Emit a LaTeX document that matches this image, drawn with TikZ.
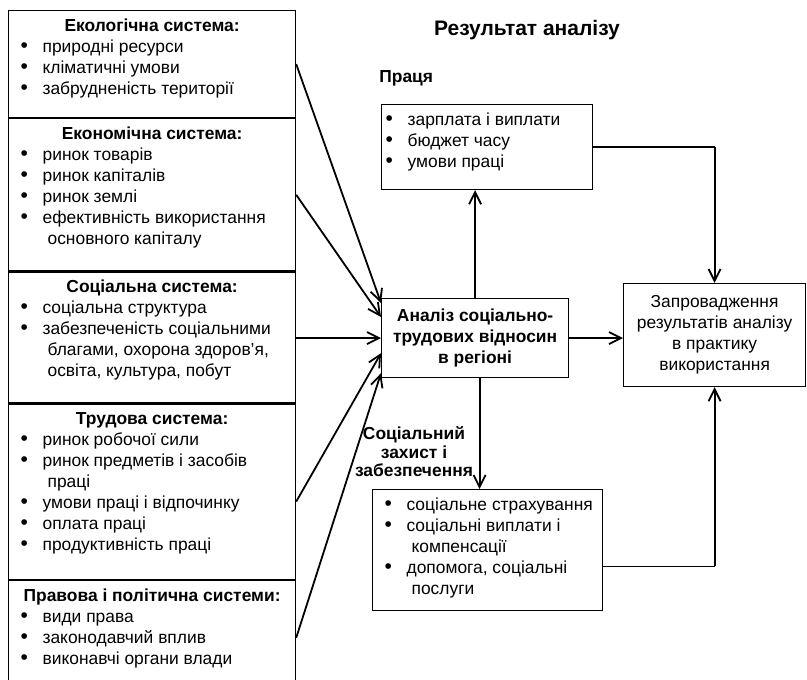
\documentclass[tikz,border=0pt]{standalone}
\usepackage{fontspec}
\setmainfont{Liberation Sans}
\usetikzlibrary{positioning,calc,arrows.meta}
\newcommand{\hd}[1]{{\centering\bfseries\strut#1\par}}
\newcommand{\bul}[2][5pt]{\noindent\hangindent=\dimexpr#1+13.5pt\relax\hangafter=1
	\makebox[\dimexpr#1+11pt\relax][l]{\hspace{#1}{\fontsize{10.5}{10.5}\selectfont\textbullet}}\strut#2\par}
\newcommand{\boxtext}[3]{\parbox[c][#1][t]{#2}{\fontsize{8.7}{10.5}\selectfont\raggedright#3}}
\tikzset{
	sysbox/.style={draw,line width=0.6pt,anchor=north west,inner xsep=1pt,inner ysep=3pt},
	resbox/.style={draw,line width=0.6pt,anchor=north west,align=center,inner sep=1pt,
		font=\fontsize{8.7}{10.5}\selectfont},
	lbl/.style={font=\fontsize{8.7}{9.25}\selectfont\bfseries,inner sep=0pt},
	arr/.style={-{Straight Barb[length=6pt,width=6pt]},line width=0.9pt},
	conn/.style={line width=0.6pt},
}
\begin{document}
\begin{tikzpicture}[x=0.5pt,y=-0.5pt]
	\useasboundingbox (0,0) rectangle (807,679);
	% systems on the left
	\node[sysbox] (eco) at (8,10) {\boxtext{47.5pt}{141.5pt}{\hd{Екологічна система:}
			\bul{природні ресурси}\bul{кліматичні умови}\bul{забрудненість території}}};
	\node[sysbox] (econ) at (eco.south west) {\boxtext{70pt}{141.5pt}{\hd{Економічна система:}
			\bul{ринок товарів}\bul{ринок капіталів}\bul{ринок землі}
			\bul{ефективність використання\newline основного капіталу}}};
	\node[sysbox] (soc) at (econ.south west) {\boxtext{59.5pt}{141.5pt}{\hd{Соціальна система:}
			\bul{соціальна структура}
			\bul{забезпеченість соціальними\newline благами, охорона здоров’я,\newline освіта, культура, побут}}};
	\node[sysbox] (lab) at (soc.south west) {\boxtext{81.5pt}{141.5pt}{\hd{Трудова система:}
			\bul{ринок робочої сили}\bul{ринок предметів і засобів\newline праці}
			\bul{умови праці і відпочинку}\bul{оплата праці}\bul{продуктивність праці}}};
	\node[sysbox] (law) at (lab.south west) {\boxtext{59pt}{141.5pt}{\hd{Правова і політична системи:}
			\bul{види права}\bul{законодавчий вплив}\bul{виконавчі органи влади}}};
	% analysis and results
	\node[resbox,minimum width=93.5pt,minimum height=39.5pt,font=\fontsize{8.7}{10.5}\selectfont\bfseries]
		(anal) at (381,298) {Аналіз соціально-\\трудових відносин\\в регіоні};
	\node[resbox,minimum width=91pt,minimum height=51.5pt] (impl) at (623,283)
		{Запровадження\\результатів аналізу\\в практику\\використання};
	\node[sysbox] (labour) at (381,104) {\boxtext{36.5pt}{103.5pt}{\bul[1pt]{зарплата і виплати}
			\bul[1pt]{бюджет часу}\bul[1pt]{умови праці}}};
	\node[sysbox] (protect) at (372,489) {\boxtext{54.5pt}{113pt}{\bul{соціальне страхування}
			\bul{соціальні виплати і\newline компенсації}\bul{допомога, соціальні\newline послуги}}};
	\node[font=\fontsize{10.5}{12}\selectfont\bfseries] (title) at (527,30) {Результат аналізу};
	\node[lbl,anchor=west] (labour-lbl) at (379,78) {Праця};
	\node[lbl,align=center] (protect-lbl) at (414,452) {Соціальний\\захист і\\забезпечення};
	% connectors
	\draw[arr] (eco.east) -- ($(anal.north west)+(0,5)$);
	\draw[arr] (econ.east) -- ($(anal.north west)+(0,19)$);
	\draw[arr] (anal.west -| soc.east) -- (anal.west);
	\draw[arr] ($(lab.north east)+(0,98)$) -- ($(anal.south west)+(0,-25)$);
	\draw[arr] ($(law.north east)+(0,58)$) -- ($(anal.south west)+(0,-5)$);
	\draw[arr] (anal.north) -- (anal.north |- labour.south);
	\draw[arr] ($(anal.south)+(4.5,0)$) coordinate (dn) -- (dn |- protect.north);
	\draw[arr] (anal.east) -- (anal.east -| impl.west);
	\draw[conn] (labour.east) -- (labour.east -| impl.north) coordinate (tr);
	\draw[arr] (tr) -- (impl.north);
	\draw[conn] ($(protect.east)+(0,16)$) coordinate (pr) -- (pr -| impl.south) coordinate (br);
	\draw[arr] (br) -- (impl.south);
\end{tikzpicture}
\end{document}
